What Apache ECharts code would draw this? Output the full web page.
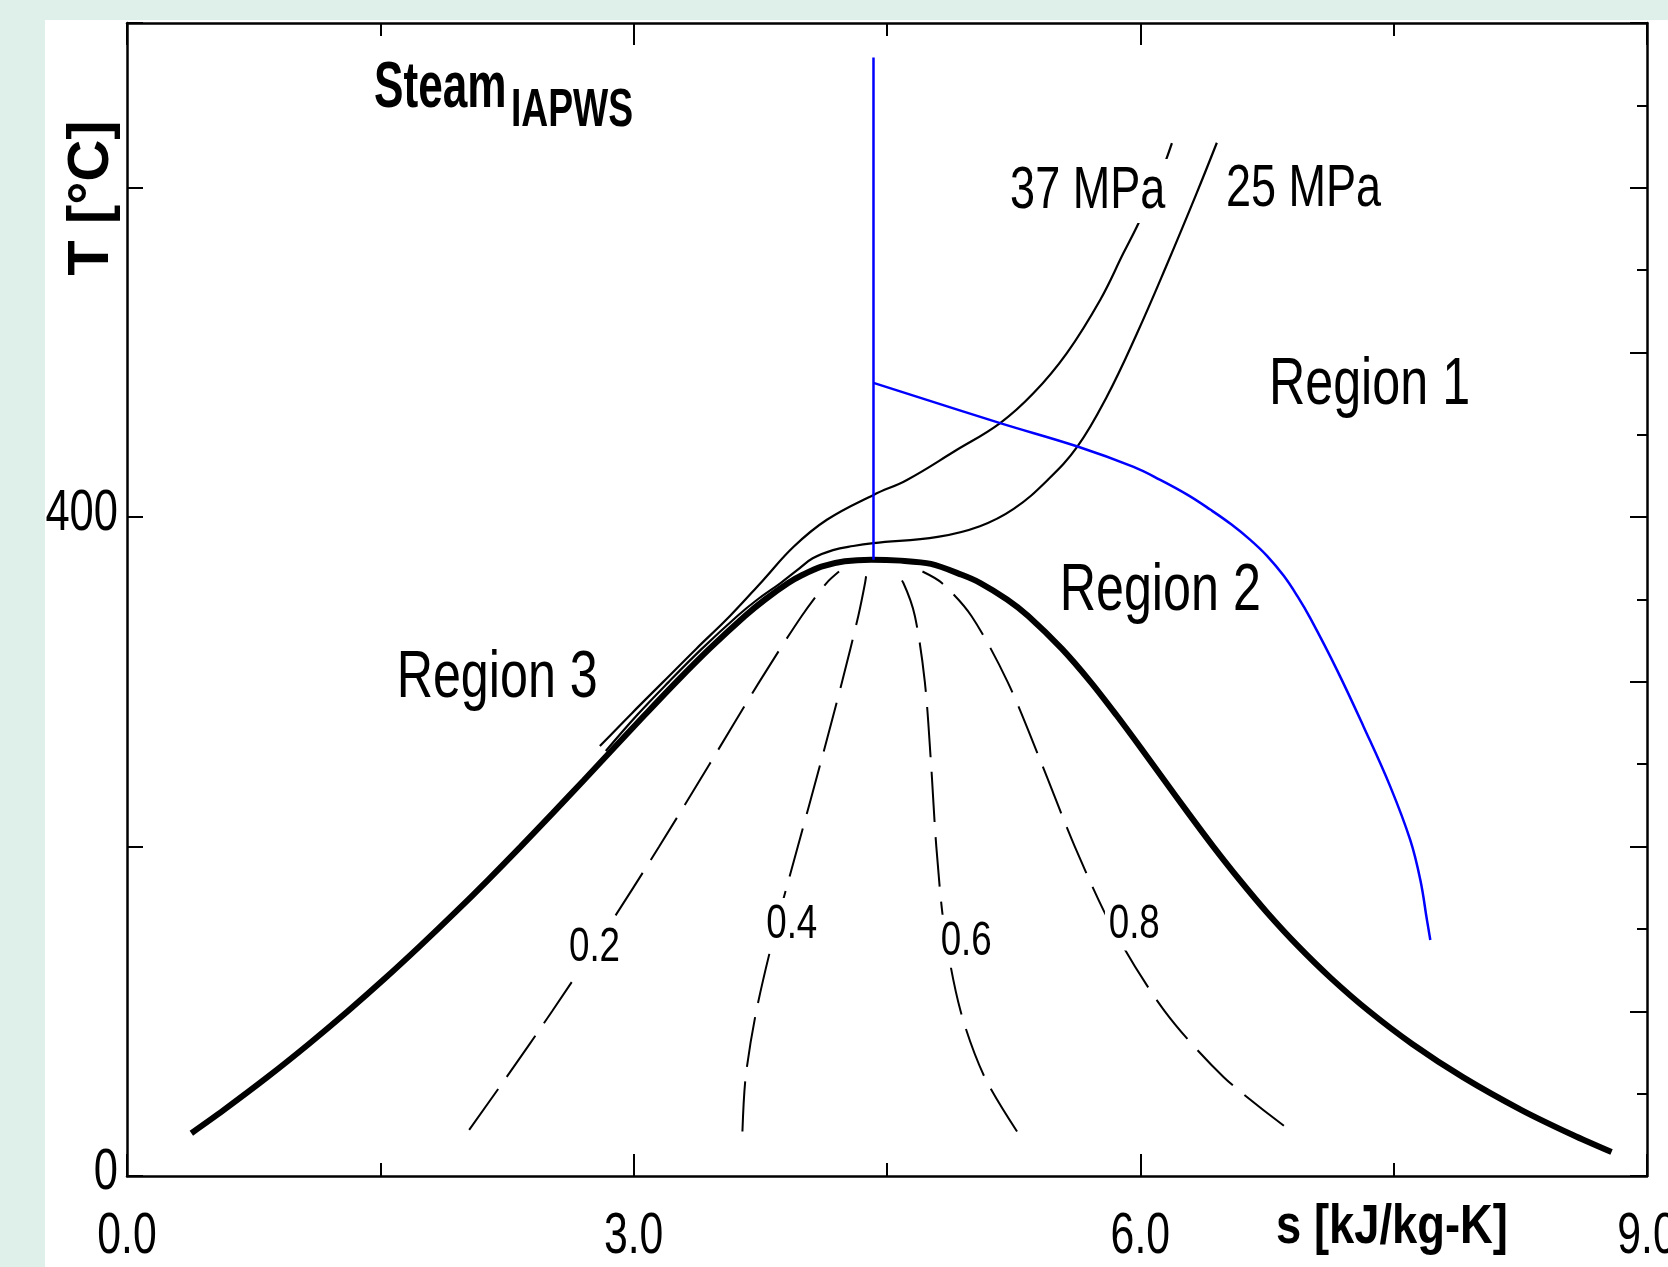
<!DOCTYPE html>
<html>
<head>
<meta charset="utf-8">
<script src="https://cdn.jsdelivr.net/npm/echarts@6/dist/echarts.min.js"></script>
<style>
  html, body { margin: 0; padding: 0; background: #def0e9; }
  #panel { position: absolute; left: 45px; top: 20px; right: 0; bottom: 0; background: #fff; }
  #chart { position: absolute; left: 0; top: 0; width: 1668px; height: 1267px; }
</style>
</head>
<body>
<div id="panel"></div>
<div id="chart"></div>
<script>
// saturation dome [s kJ/kg-K, T °C]
const satLiquid = [
  [0.381, 26], [0.572, 40], [0.831, 60], [1.075, 80], [1.307, 100], [1.528, 120],
  [1.739, 140], [1.943, 160], [2.140, 180], [2.331, 200], [2.518, 220], [2.702, 240],
  [2.884, 260], [3.067, 280], [3.253, 300], [3.448, 320], [3.659, 340], [3.778, 350],
  [3.915, 360], [4.001, 365], [4.111, 370], [4.25, 373.2], [4.407, 374.2]
]
const satVapor = [
  [4.58, 373.6], [4.76, 371.6], [4.943, 365], [5.053, 360], [5.211, 350], [5.336, 340],
  [5.536, 320], [5.705, 300], [5.857, 280], [6.002, 260], [6.144, 240], [6.286, 220],
  [6.432, 200], [6.586, 180], [6.750, 160], [6.930, 140], [7.130, 120], [7.355, 100],
  [7.612, 80], [7.910, 60], [8.257, 40], [8.558, 25], [8.790, 14.5]
]

// constant quality lines
const quality02 = [[2.026, 28], [2.247, 60], [2.517, 100], [2.841, 150], [3.151, 200], [3.449, 250], [3.744, 300], [3.995, 340], [4.142, 360], [4.216, 367]]
const quality04 = [[3.644, 27], [3.663, 60], [3.726, 100], [3.840, 150], [3.972, 200], [4.105, 250], [4.234, 300], [4.330, 340], [4.370, 360], [4.380, 367]]
const quality06 = [[5.270, 27], [5.078, 60], [4.936, 100], [4.840, 150], [4.792, 200], [4.761, 250], [4.724, 300], [4.665, 340], [4.597, 360], [4.545, 367]]
const quality08 = [[6.850, 30.5], [6.494, 60], [6.145, 100], [5.839, 150], [5.612, 200], [5.417, 250], [5.214, 300], [5.000, 340], [4.825, 360], [4.710, 367]]

// isobars
const isobar37 = [
  [2.80, 261], [2.99, 281], [3.175, 300], [3.37, 320], [3.57, 340], [3.76, 361],
  [3.947, 382], [4.144, 398.4], [4.42, 413.5], [4.618, 422.6], [4.90, 440], [5.17, 457.1],
  [5.368, 475.3], [5.565, 499.6], [5.763, 532], [5.90, 560.3], [5.98, 576.5], [6.10, 603],
  [6.187, 627.1]
]
const isobar25 = [
  [2.835, 258], [3.022, 280], [3.208, 300], [3.403, 320], [3.614, 340], [3.733, 350],
  [3.87, 360], [3.97, 368], [4.06, 375], [4.18, 380], [4.30, 382.5], [4.42, 384.2],
  [4.80, 388], [5.05, 394.5], [5.25, 405], [5.45, 422.4], [5.628, 442.9], [5.80, 472.8],
  [5.98, 511.5], [6.16, 554], [6.33, 595.8], [6.453, 627.3]
]

// region boundaries (blue)
const boundaryVertical = [[4.42, 374.2], [4.42, 679]]
const boundaryCurve = [
  [4.42, 481.5], [5.17, 457.1], [5.628, 442.9], [5.96, 430.5], [6.118, 422.6], [6.28, 413.5],
  [6.414, 404.6], [6.54, 395.5], [6.651, 386.2], [6.75, 376.5], [6.848, 364.5], [6.93, 352],
  [7.007, 338.5], [7.164, 307.3], [7.322, 272.8], [7.48, 236.4], [7.598, 204], [7.658, 179.7],
  [7.697, 155.5], [7.717, 143.3]
]

// annotations [s, T, text]
const regionLabels = [[7.357, 481.8, 'Region 1'], [6.118, 356.4, 'Region 2'], [2.192, 303.7, 'Region 3']]
const isobarLabels = [[5.688, 599.8, '37 MPa'], [6.966, 600.5, '25 MPa']]
const qualityLabels = [[2.768, 140.8, '0.2'], [3.936, 154.5, '0.4'], [4.969, 144.3, '0.6'], [5.964, 154.8, '0.8']]

const xLabels = [0, 3, 6, 9]
const yLabels = [0, 400]

const SANS = "'Liberation Sans', Arial, sans-serif"
const NARROW = 0.75

const chart = echarts.init(document.getElementById('chart'))

function curve(data, color, width, type, smooth) {
  return {
    type: 'line',
    data: data,
    symbol: 'none',
    smooth: smooth || 0.3,
    silent: true,
    lineStyle: { color: color, width: width, type: type || 'solid' },
    z: 3
  }
}

const tickStyle = { color: '#000', width: 2 }
const lineStyle = { color: '#000', width: 2.5 }

chart.setOption({
  animation: false,
  grid: { left: 127, right: 21, top: 23, bottom: 91, outerBoundsMode: 'none' },
  xAxis: [
    {
      type: 'value',
      min: 0,
      max: 9,
      interval: 3,
      position: 'bottom',
      axisLine: { onZero: false, lineStyle: lineStyle },
      axisTick: { inside: true, length: 22, lineStyle: tickStyle },
      minorTick: { show: true, splitNumber: 2, length: 13, lineStyle: tickStyle },
      splitLine: { show: false },
      axisLabel: { show: false }
    },
    {
      type: 'value',
      min: 0,
      max: 9,
      interval: 3,
      position: 'top',
      axisLine: { onZero: false, lineStyle: lineStyle },
      axisTick: { inside: true, length: 22, lineStyle: tickStyle },
      minorTick: { show: true, splitNumber: 2, length: 13, lineStyle: tickStyle },
      splitLine: { show: false },
      axisLabel: { show: false }
    }
  ],
  yAxis: [
    {
      type: 'value',
      min: 0,
      max: 700,
      interval: 200,
      position: 'left',
      axisLine: { onZero: false, lineStyle: lineStyle },
      axisTick: { inside: true, length: 16, lineStyle: tickStyle },
      splitLine: { show: false },
      axisLabel: { show: false }
    },
    {
      type: 'value',
      min: 0,
      max: 700,
      interval: 100,
      position: 'right',
      axisLine: { onZero: false, lineStyle: lineStyle },
      axisTick: { inside: true, length: 17, lineStyle: tickStyle },
      minorTick: { show: true, splitNumber: 2, length: 10, lineStyle: tickStyle },
      splitLine: { show: false },
      axisLabel: { show: false }
    }
  ],
  series: [
    curve(satLiquid.concat(satVapor), '#000', 6),
    curve(quality02, '#000', 2, [50, 15]),
    curve(quality04, '#000', 2, [50, 15]),
    curve(quality06, '#000', 2, [50, 15]),
    curve(quality08, '#000', 2, [50, 15]),
    curve(isobar37, '#000', 2.2, null, 0.4),
    curve(isobar25, '#000', 2.2, null, 0.4),
    curve(boundaryVertical, '#0000ff', 2.5),
    curve(boundaryCurve, '#0000ff', 2.5, null, 0.4)
  ]
})

// text drawn condensed like the original; positions come from the axes
function text(str, x, y, size, opt) {
  opt = opt || {}
  return {
    type: 'text',
    x: x,
    y: opt.rotation ? y : y + 3,
    scaleX: opt.scaleX || NARROW,
    rotation: opt.rotation || 0,
    z: 100,
    silent: true,
    style: {
      text: str,
      font: (opt.bold ? 'bold ' : '') + size + 'px ' + SANS,
      fill: '#000',
      align: opt.align || 'center',
      verticalAlign: 'middle',
      backgroundColor: opt.bg,
      padding: opt.bg ? [2, 5] : 0
    }
  }
}

const toPx = (s, T) => chart.convertToPixel({ seriesIndex: 0 }, [s, T])
const graphics = []

xLabels.forEach((v) => {
  const x = chart.convertToPixel({ xAxisIndex: 0 }, v)
  graphics.push(text(v.toFixed(1), x, 1234, 57))
})
yLabels.forEach((v) => {
  const y = chart.convertToPixel({ yAxisIndex: 0 }, v)
  graphics.push(text(String(v), 118, y - 6, 58, { align: 'right' }))
})
regionLabels.forEach((d) => {
  const p = toPx(d[0], d[1])
  graphics.push(text(d[2], p[0], p[1], 67))
})
isobarLabels.forEach((d) => {
  const p = toPx(d[0], d[1])
  graphics.push(text(d[2], p[0], p[1], 60, { bg: '#fff' }))
})
qualityLabels.forEach((d) => {
  const p = toPx(d[0], d[1])
  graphics.push(text(d[2], p[0], p[1], 49, { bg: '#fff' }))
})

graphics.push(text('Steam', 374, 86, 64, { bold: true, align: 'left', scaleX: 0.69 }))
graphics.push(text('IAPWS', 511, 108, 54, { bold: true, align: 'left', scaleX: 0.69 }))
graphics.push(text('T [°C]', 92, 198, 58, { bold: true, scaleX: 1, rotation: Math.PI / 2 }))
graphics.push(text('s [kJ/kg-K]', 1392, 1225, 56, { bold: true, scaleX: 0.81 }))

chart.setOption({ graphic: graphics })
</script>
</body>
</html>
